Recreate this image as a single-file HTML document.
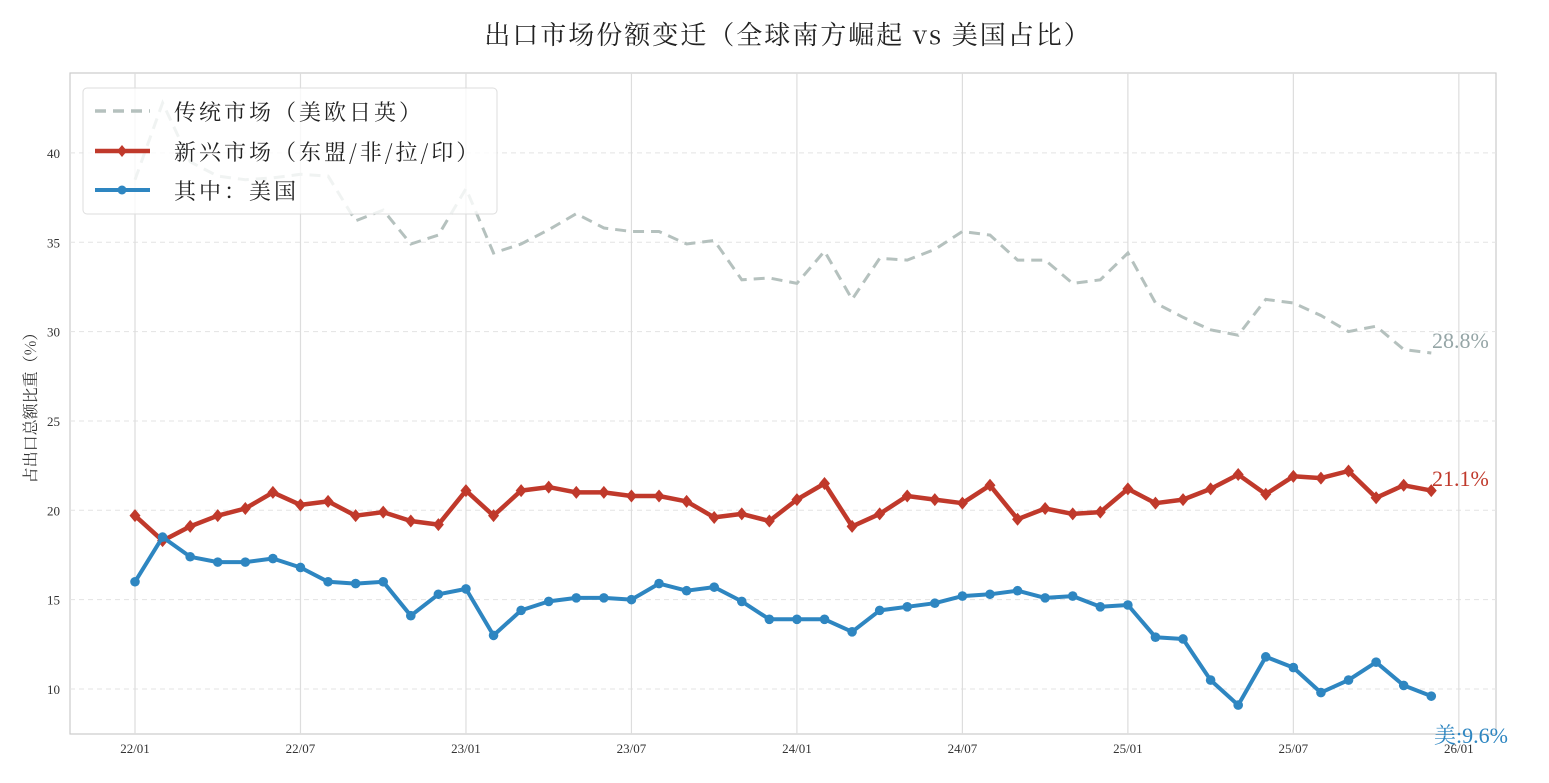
<!DOCTYPE html>
<html><head><meta charset="utf-8"><style>
html,body{margin:0;padding:0;background:#fff;}
svg text{font-family:"Liberation Serif","Noto Serif CJK SC",serif;}
svg text.cjk{font-family:"Noto Serif CJK SC","Liberation Serif",serif;}
</style></head><body>
<svg id="s" width="1549" height="778" xmlns="http://www.w3.org/2000/svg">
<rect x="0" y="0" width="1549" height="778" fill="#fff"/>
<text class="cjk" x="788" y="44" text-anchor="middle" font-size="26" fill="#222" letter-spacing="2">出口市场份额变迁（全球南方崛起 vs 美国占比）</text>
<rect x="70" y="73" width="1426" height="661" fill="none" stroke="#ccc" stroke-width="1.2"/>
<g id="grid"></g>
<g id="lines"></g>
<text class="cjk" transform="translate(36,404) rotate(-90)" text-anchor="middle" font-size="16" fill="#333">占出口总额比重（%）</text>
<text x="1432" y="348" font-size="22" fill="#95a5a6">28.8%</text>
<text x="1432" y="486" font-size="22" fill="#c0392b">21.1%</text>
<text x="1434" y="743" font-size="22" fill="#2e86c1">美:9.6%</text>
<g>
<rect x="83" y="88" width="414" height="126" rx="4" fill="#fff" fill-opacity="0.8" stroke="#ddd"/>
<line x1="95" y1="111" x2="150" y2="111" stroke="#b5c1be" stroke-width="3.5" stroke-dasharray="11,7"/>
<line x1="95" y1="151" x2="150" y2="151" stroke="#c0392b" stroke-width="4.5"/>
<path d="M122 145 L127 151 L122 157 L117 151Z" fill="#c0392b"/>
<line x1="95" y1="190" x2="150" y2="190" stroke="#2e86c1" stroke-width="4"/>
<circle cx="122" cy="190" r="4.5" fill="#2e86c1"/>
<text class="cjk" x="174" y="120" font-size="22" fill="#222" letter-spacing="3">传统市场（美欧日英）</text>
<text class="cjk" x="174" y="160" font-size="22" fill="#222" letter-spacing="3">新兴市场（东盟/非/拉/印）</text>
<text class="cjk" x="174" y="199" font-size="22" fill="#222" letter-spacing="3">其中：美国</text>
</g>
</svg>
<script>
const NS="http://www.w3.org/2000/svg";
const X=i=>135+i*27.58, Y=v=>689-(v-10)*17.87;
const g=document.getElementById('grid'), L=document.getElementById('lines');
function el(p,t,a){const e=document.createElementNS(NS,t);for(const k in a)e.setAttribute(k,a[k]);p.appendChild(e);return e;}
[10,15,20,25,30,35,40].forEach(v=>{el(g,'line',{x1:70,x2:1496,y1:Y(v),y2:Y(v),stroke:'#e3e3e3','stroke-dasharray':'5,4'});
 const t=el(g,'text',{x:60,y:Y(v)+5,'text-anchor':'end','font-size':13,fill:'#333'});t.textContent=v;});
['22/01','22/07','23/01','23/07','24/01','24/07','25/01','25/07','26/01'].forEach((s,k)=>{const x=X(k*6);
 el(g,'line',{x1:x,x2:x,y1:73,y2:734,stroke:'#ddd','stroke-width':1.2});
 const t=el(g,'text',{x:x,y:753,'text-anchor':'middle','font-size':13,fill:'#333'});t.textContent=s;});
const gray=[38.5,42.8,39.5,38.7,38.5,38.6,38.8,38.7,36.2,36.8,34.9,35.4,38.0,34.4,34.9,35.7,36.6,35.8,35.6,35.6,34.9,35.1,32.9,33.0,32.7,34.5,31.8,34.1,34.0,34.6,35.6,35.4,34.0,34.0,32.7,32.9,34.4,31.6,30.8,30.1,29.8,31.8,31.6,30.9,30.0,30.3,29.0,28.8];
const red=[19.7,18.3,19.1,19.7,20.1,21.0,20.3,20.5,19.7,19.9,19.4,19.2,21.1,19.7,21.1,21.3,21.0,21.0,20.8,20.8,20.5,19.6,19.8,19.4,20.6,21.5,19.1,19.8,20.8,20.6,20.4,21.4,19.5,20.1,19.8,19.9,21.2,20.4,20.6,21.2,22.0,20.9,21.9,21.8,22.2,20.7,21.4,21.1];
const blue=[16.0,18.5,17.4,17.1,17.1,17.3,16.8,16.0,15.9,16.0,14.1,15.3,15.6,13.0,14.4,14.9,15.1,15.1,15.0,15.9,15.5,15.7,14.9,13.9,13.9,13.9,13.2,14.4,14.6,14.8,15.2,15.3,15.5,15.1,15.2,14.6,14.7,12.9,12.8,10.5,9.1,11.8,11.2,9.8,10.5,11.5,10.2,9.6];
const pts=a=>a.map((v,i)=>X(i).toFixed(1)+','+Y(v).toFixed(1)).join(' ');
el(L,'polyline',{points:pts(gray),fill:'none',stroke:'#b5c1be','stroke-width':3,'stroke-dasharray':'11,7'});
el(L,'polyline',{points:pts(red),fill:'none',stroke:'#c0392b','stroke-width':4.5,'stroke-linejoin':'round'});
red.forEach((v,i)=>{const x=X(i),y=Y(v);el(L,'path',{d:`M${x} ${y-6.5}L${x+5.5} ${y}L${x} ${y+6.5}L${x-5.5} ${y}Z`,fill:'#c0392b'});});
el(L,'polyline',{points:pts(blue),fill:'none',stroke:'#2e86c1','stroke-width':4,'stroke-linejoin':'round'});
blue.forEach((v,i)=>el(L,'circle',{cx:X(i),cy:Y(v),r:4.8,fill:'#2e86c1'}));
</script>
</body></html>
